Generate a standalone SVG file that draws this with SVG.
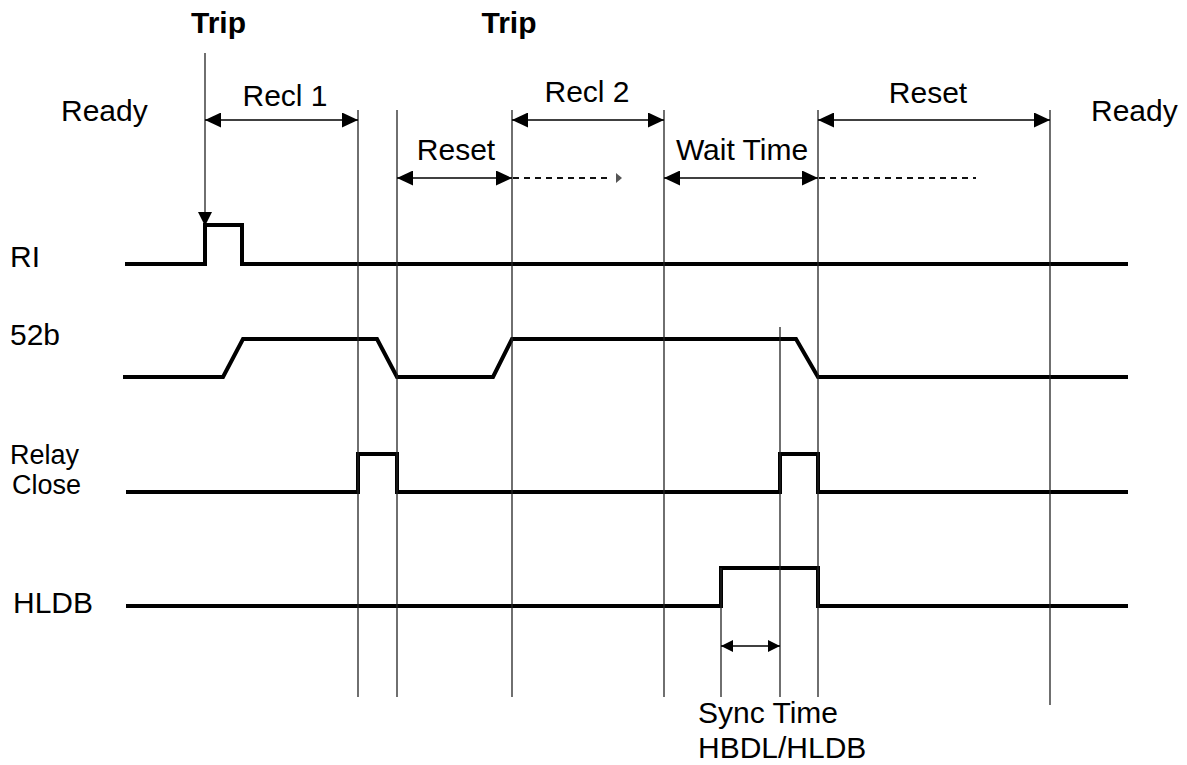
<svg xmlns="http://www.w3.org/2000/svg" width="1187" height="765" viewBox="0 0 1187 765">
<style>
text{font-family:"Liberation Sans",Arial,sans-serif;font-size:30px;fill:#000}
.b{font-weight:bold}
.sm{font-size:27px}
.sig{fill:none;stroke:#000;stroke-width:4;stroke-linejoin:miter}
.v{stroke:#222;stroke-width:1.3}
.dim{stroke:#000;stroke-width:1.6}
.dash{stroke:#111;stroke-width:2.2;stroke-dasharray:6 5}
</style>
<defs>
<marker id="ah" markerUnits="userSpaceOnUse" markerWidth="17" markerHeight="15" refX="16" refY="7.5" orient="auto-start-reverse"><path d="M0,0 L16,7.5 L0,15 z" fill="#000"/></marker>
<marker id="ahs" markerUnits="userSpaceOnUse" markerWidth="13" markerHeight="12" refX="12" refY="6" orient="auto-start-reverse"><path d="M0,0 L12,6 L0,12 z" fill="#000"/></marker>
</defs>
<g id="labels">
<text class="b" x="218.5" y="33" text-anchor="middle">Trip</text>
<text class="b" x="509" y="33" text-anchor="middle">Trip</text>
<text x="61" y="121">Ready</text>
<text x="1091" y="121">Ready</text>
<text x="285" y="106" text-anchor="middle">Recl 1</text>
<text x="587" y="102" text-anchor="middle">Recl 2</text>
<text x="456" y="160" text-anchor="middle">Reset</text>
<text x="742" y="160" text-anchor="middle">Wait Time</text>
<text x="928" y="103" text-anchor="middle">Reset</text>
<text x="698" y="723">Sync Time</text>
<text x="698" y="758">HBDL/HLDB</text>
</g>
<g id="RI"><text x="10" y="267">RI</text><path class="sig" d="M125,264 H205 V225 H242 V264 H1128"/></g>
<g id="s52b"><text x="10" y="345">52b</text><path class="sig" d="M123,377 H223 L243,339 H377 L397,377 H493 L512,339 H796 L818,377 H1128"/></g>
<g id="RelayClose"><text class="sm" x="10" y="464">Relay</text><text class="sm" x="12" y="494">Close</text><path class="sig" d="M126,492 H358 V454 H397 V492 H780 V454 H818 V492 H1128"/></g>
<g id="HLDB"><text x="13" y="613">HLDB</text><path class="sig" d="M126,606 H721 V568 H818 V606 H1128"/></g>
<g id="connectors">
<line class="v" x1="205" y1="53" x2="205" y2="214"/>
<path d="M198,212 L212,212 L205,226 z" fill="#000"/>
<line class="v" x1="358" y1="110" x2="358" y2="697"/>
<line class="v" x1="397" y1="110" x2="397" y2="697"/>
<line class="v" x1="512" y1="110" x2="512" y2="697"/>
<line class="v" x1="664" y1="110" x2="664" y2="697"/>
<line class="v" x1="780" y1="327" x2="780" y2="697"/>
<line class="v" x1="721" y1="568" x2="721" y2="697"/>
<line class="v" x1="818" y1="110" x2="818" y2="697"/>
<line class="v" x1="1050" y1="110" x2="1050" y2="705"/>
<line class="dim" x1="205" y1="120" x2="358" y2="120" marker-start="url(#ah)" marker-end="url(#ah)"/>
<line class="dim" x1="512" y1="120" x2="664" y2="120" marker-start="url(#ah)" marker-end="url(#ah)"/>
<line class="dim" x1="818" y1="120" x2="1050" y2="120" marker-start="url(#ah)" marker-end="url(#ah)"/>
<line class="dim" x1="397" y1="178" x2="512" y2="178" marker-start="url(#ah)" marker-end="url(#ah)"/>
<line class="dim" x1="664" y1="178" x2="818" y2="178" marker-start="url(#ah)" marker-end="url(#ah)"/>
<line class="dash" x1="513" y1="178" x2="612" y2="178"/>
<path d="M616,173 L622,178 L616,183 z" fill="#555"/>
<line class="dash" x1="819" y1="178" x2="976" y2="178"/>
<line class="dim" x1="721" y1="646" x2="780" y2="646" marker-start="url(#ahs)" marker-end="url(#ahs)"/>
</g>
</svg>
